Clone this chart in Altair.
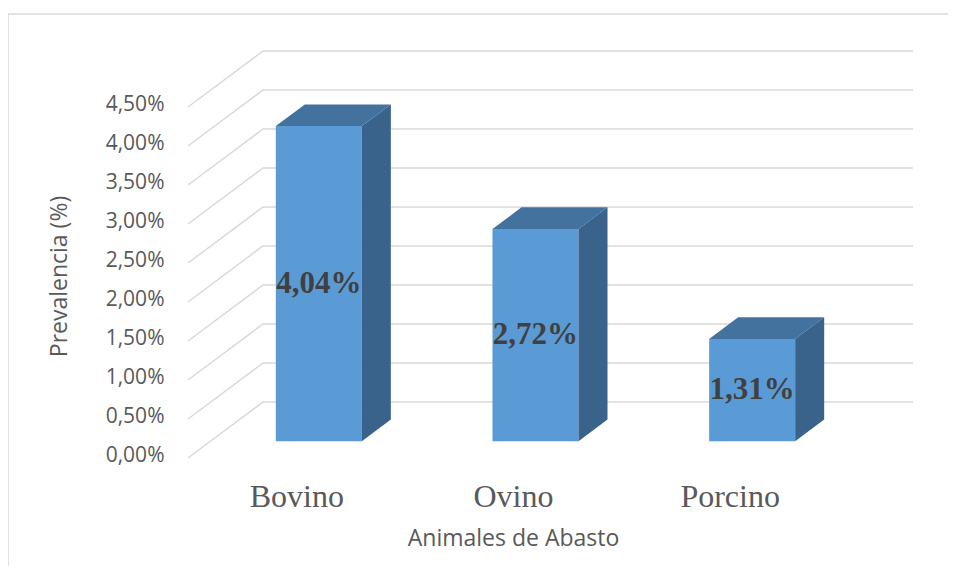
import json
import altair as alt
import pandas as pd

# ---- data ----
categories = ["Bovino", "Ovino", "Porcino"]
values = [4.04, 2.72, 1.31]
y_ticks = [0.0, 0.5, 1.0, 1.5, 2.0, 2.5, 3.0, 3.5, 4.0, 4.5]

# ---- 3D projection settings (style) ----
DX = 0.346   # depth offset, in category units
DY = 0.718   # depth offset, in percent units
D0, D1 = 0.30, 0.687   # bar depth position (front, back) as a fraction of floor depth
HW = 0.1985            # half bar width in category units
N = len(categories)

# gridlines: front-left corner -> back wall -> back wall right end
grid_rows = []
for t in y_ticks:
    grid_rows += [
        {"tick": t, "o": 0, "x": 0.0, "y": t},
        {"tick": t, "o": 1, "x": DX, "y": t + DY},
        {"tick": t, "o": 2, "x": N + DX, "y": t + DY},
    ]
grid_df = pd.DataFrame(grid_rows)

front_rows, top_rows, side_rows, label_rows = [], [], [], []
for i, (cat, v) in enumerate(zip(categories, values)):
    c = i + 0.5
    xl0 = c - HW + D0 * DX
    xr0 = c + HW + D0 * DX
    sh = (D1 - D0) * DX
    front_rows.append({"cat": cat, "x": xl0, "x2": xr0, "y": D0 * DY, "y2": v + D0 * DY})
    top_rows += [
        {"cat": cat, "y": v + D0 * DY, "x": xl0, "x2": xr0},
        {"cat": cat, "y": v + D1 * DY, "x": xl0 + sh, "x2": xr0 + sh},
    ]
    side_rows += [
        {"cat": cat, "x": xr0, "y": D0 * DY, "y2": v + D0 * DY},
        {"cat": cat, "x": xr0 + sh, "y": D1 * DY, "y2": v + D1 * DY},
    ]
    label_rows.append({
        "cat": cat,
        "x": c + D0 * DX,
        "y": v / 2 + D0 * DY,
        "label": f"{v:.2f}".replace(".", ",") + "%",
    })

front_df = pd.DataFrame(front_rows)
top_df = pd.DataFrame(top_rows)
side_df = pd.DataFrame(side_rows)
label_df = pd.DataFrame(label_rows)

GRAY = "#595959"
x_scale = alt.Scale(domain=[0, N], nice=False, zero=False)
y_scale = alt.Scale(domain=[0, 4.5], nice=False, zero=False)

x_axis = alt.Axis(
    values=[i + 0.5 for i in range(N)],
    labelExpr=json.dumps(categories) + "[floor(datum.value)]",
    domain=False, ticks=False, tickSize=0, grid=False,
    labelFont="Liberation Serif", labelFontSize=32, labelColor=GRAY,
    labelPadding=48, labelBaseline="alphabetic", labelFlush=False, labelOverlap=False,
    title="Animales de Abasto", titleFont="Open Sans", titleFontSize=23,
    titleColor=GRAY, titleFontWeight="normal", titleY=80, titleBaseline="middle",
)
y_axis = alt.Axis(
    values=y_ticks,
    labelExpr="replace(format(datum.value, '.2f'), '.', ',') + '%'",
    domain=False, ticks=False, tickSize=0, grid=False,
    labelFont="Open Sans", labelFontSize=21, labelColor=GRAY, labelPadding=24,
    labelOffset=-3,
    title="Prevalencia (%)", titleFont="Open Sans", titleFontSize=23,
    titleColor=GRAY, titleFontWeight="normal", titleX=-129, titleY=169,
    titleAngle=270, titleAlign="center", titleBaseline="middle",
)


def X(field="x"):
    return alt.X(f"{field}:Q", scale=x_scale, axis=x_axis, stack=None)


def Y(field="y"):
    return alt.Y(f"{field}:Q", scale=y_scale, axis=y_axis, stack=None)


grid = alt.Chart(grid_df).mark_line(color="#D9D9D9", strokeWidth=1.5).encode(
    x=X(), y=Y(), detail="tick:N", order="o:Q"
)

front = alt.Chart(front_df).mark_rect(color="#5B9BD5").encode(
    x=X(), x2="x2:Q", y=Y(), y2="y2:Q"
)

top = alt.Chart(top_df).mark_area(color="#44729F", orient="horizontal").encode(
    y=Y(), x=X(), x2="x2:Q", detail="cat:N"
)

side = alt.Chart(side_df).mark_area(color="#39638A", orient="vertical").encode(
    x=X(), y=Y(), y2="y2:Q", detail="cat:N"
)

labels = alt.Chart(label_df).mark_text(
    font="Liberation Serif", fontSize=31, fontWeight="bold", color="#404040",
    align="center", baseline="middle",
).encode(x=X(), y=Y(), text="label:N")

border_top = alt.Chart(pd.DataFrame({"k": [0]})).mark_rule(
    color="#D9D9D9", strokeWidth=1.5
).encode(x=alt.value(-180), x2=alt.value(780), y=alt.value(-93))

border_left = alt.Chart(pd.DataFrame({"k": [0]})).mark_rule(
    color="#D9D9D9", strokeWidth=1.5
).encode(x=alt.value(-180), y=alt.value(-93), y2=alt.value(480))

chart = (
    alt.layer(grid, front, top, side, labels, border_top, border_left)
    .properties(
        width=650,
        height=351,
        autosize=alt.AutoSizeParams(type="none"),
        padding={"left": 180, "top": 99, "right": 110, "bottom": 108},
        background="white",
    )
    .configure_view(stroke=None)
)

chart.save("out.html", embed_options={"renderer": "svg", "actions": False})
